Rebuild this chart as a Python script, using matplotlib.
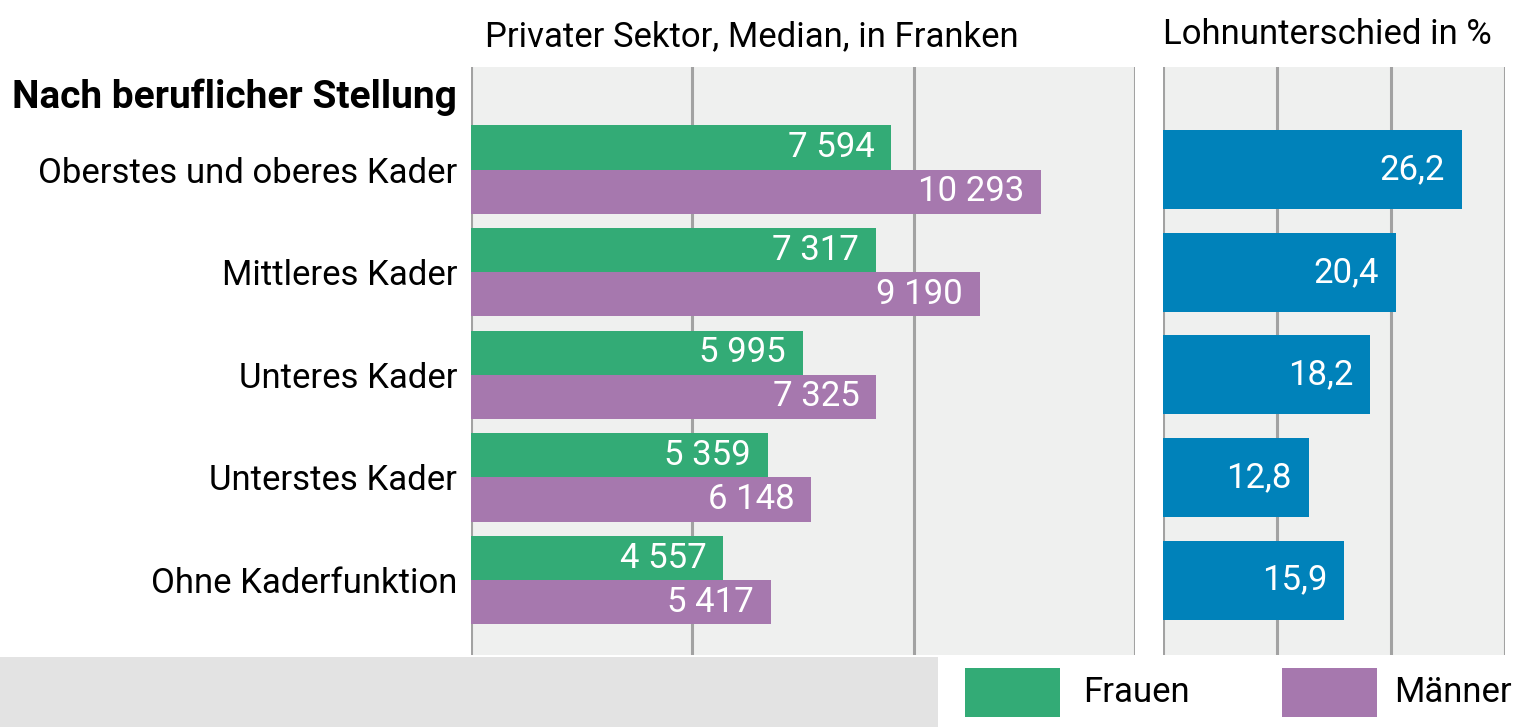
import matplotlib.pyplot as plt
from matplotlib.patches import Rectangle
import numpy as np

plt.rcParams['font.family'] = ['Roboto', 'DejaVu Sans']

categories = ['Oberstes und oberes Kader', 'Mittleres Kader', 'Unteres Kader',
              'Unterstes Kader', 'Ohne Kaderfunktion']
frauen = [7594, 7317, 5995, 5359, 4557]
maenner = [10293, 9190, 7325, 6148, 5417]
differenz = [26.2, 20.4, 18.2, 12.8, 15.9]
legend_labels = ['Frauen', 'Männer']

GREEN = '#33ab76'
PURPLE = '#a678ae'
BLUE = '#0082ba'
PANEL = '#eff0ef'
GRID = '#a2a2a2'
W, H = 1517, 727
FS = 25


def px(x, y):
    # pixel position (from top-left) -> figure fraction
    return x / W, 1 - y / H


def fmt_chf(v):
    return f'{v:,}'.replace(',', ' ')


fig = plt.figure(figsize=(W / 100, H / 100), dpi=100)

# bottom grey band
fig.patches.append(Rectangle(px(0, 727), 938 / W, 70 / H, transform=fig.transFigure,
                             facecolor='#e3e3e3', edgecolor='none', zorder=0))

y = np.arange(len(categories))
bh = 0.43

#%% left panel: wages
ax1 = fig.add_axes([471 / W, 1 - 655 / H, 664 / W, 588 / H])
ax1.set_facecolor(PANEL)
ax1.barh(y - bh / 2, frauen, height=bh, color=GREEN, zorder=2)
ax1.barh(y + bh / 2, maenner, height=bh, color=PURPLE, zorder=2)
for i in range(len(categories)):
    ax1.text(frauen[i] - 300, y[i] - bh / 2, fmt_chf(frauen[i]), color='white',
             ha='right', va='center', fontsize=FS, zorder=3)
    ax1.text(maenner[i] - 300, y[i] + bh / 2, fmt_chf(maenner[i]), color='white',
             ha='right', va='center', fontsize=FS, zorder=3)
ax1.set_xlim(0, 12000)
ax1.set_ylim(4.73, -1.0)
for gx in [0, 4000, 8000, 12000]:
    ax1.axvline(gx, color=GRID, lw=2.2, zorder=1)
ax1.set_yticks(y)
ax1.set_yticklabels(categories, fontsize=FS)
ax1.tick_params(axis='y', length=0, pad=10)
ax1.set_xticks([])
for s in ax1.spines.values():
    s.set_visible(False)

#%% right panel: difference
ax2 = fig.add_axes([1163 / W, 1 - 655 / H, 342 / W, 588 / H])
ax2.set_facecolor(PANEL)
ax2.barh(y, differenz, height=0.77, color=BLUE, zorder=2)
for i in range(len(categories)):
    ax2.text(differenz[i] - 1.5, y[i], f'{differenz[i]:.1f}'.replace('.', ','),
             color='white', ha='right', va='center', fontsize=FS, zorder=3)
ax2.set_xlim(0, 30)
ax2.set_ylim(4.73, -1.0)
for gx in [0, 10, 20, 30]:
    ax2.axvline(gx, color=GRID, lw=2.2, zorder=1)
ax2.set_xticks([])
ax2.set_yticks([])
for s in ax2.spines.values():
    s.set_visible(False)

#%% titles
fig.text(*px(752, 37), 'Privater Sektor, Median, in Franken', ha='center', va='center', fontsize=FS)
fig.text(*px(1327, 35), 'Lohnunterschied in %', ha='center', va='center', fontsize=FS)
fig.text(*px(457, 97), 'Nach beruflicher Stellung', ha='right', va='center',
         fontsize=28, fontweight='bold')

# legend
fig.patches.append(Rectangle(px(965, 717), 95 / W, 49 / H, transform=fig.transFigure,
                             facecolor=GREEN, edgecolor='none'))
fig.text(*px(1083, 692), legend_labels[0], ha='left', va='center', fontsize=FS)
fig.patches.append(Rectangle(px(1282, 717), 95 / W, 49 / H, transform=fig.transFigure,
                             facecolor=PURPLE, edgecolor='none'))
fig.text(*px(1512, 692), legend_labels[1], ha='right', va='center', fontsize=FS)

fig.savefig('out.png', dpi=100)
